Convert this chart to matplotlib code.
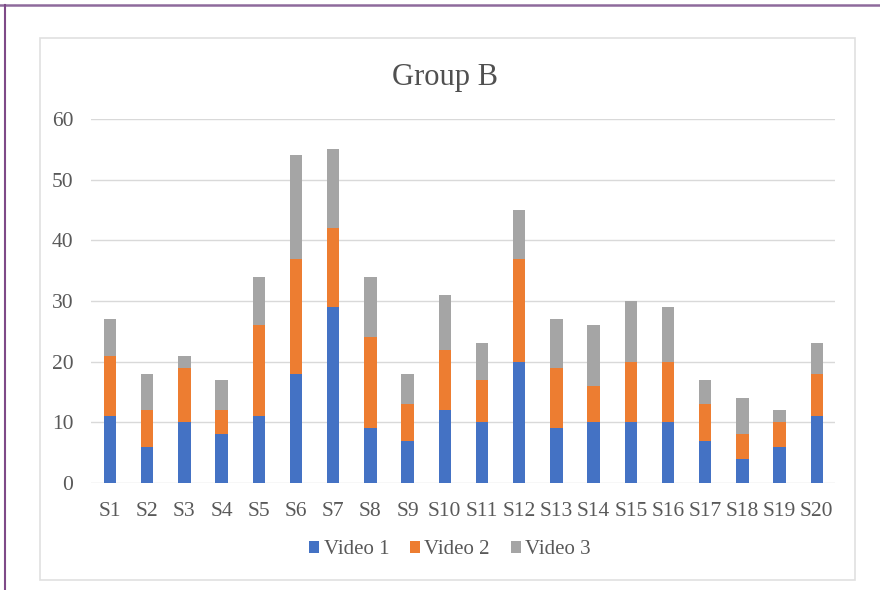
import matplotlib
matplotlib.use("Agg")
import matplotlib.pyplot as plt
from matplotlib.patches import Rectangle
from matplotlib.lines import Line2D
import numpy as np

categories = [f"S{i}" for i in range(1, 21)]
video1 = [11, 6, 10, 8, 11, 18, 29, 9, 7, 12, 10, 20, 9, 10, 10, 10, 7, 4, 6, 11]
video2 = [10, 6, 9, 4, 15, 19, 13, 15, 6, 10, 7, 17, 10, 6, 10, 10, 6, 4, 4, 7]
video3 = [6, 6, 2, 5, 8, 17, 13, 10, 5, 9, 6, 8, 8, 10, 10, 9, 4, 6, 2, 5]
series_names = ["Video 1", "Video 2", "Video 3"]
colors = ["#4472C4", "#ED7D31", "#A5A5A5"]
yticks = [0, 10, 20, 30, 40, 50, 60]

plt.rcParams['font.family'] = ['Liberation Serif', 'DejaVu Serif']

W, H = 880, 590
fig = plt.figure(figsize=(W / 100, H / 100), dpi=100)

# outer purple frame lines
fig.add_artist(Line2D([0, 1], [1 - 4.5 / H, 1 - 4.5 / H], transform=fig.transFigure,
                      color="#8E6A9C", lw=1.8))
fig.add_artist(Line2D([4.5 / W, 4.5 / W], [0, 1 - 4.5 / H], transform=fig.transFigure,
                      color="#7E4A88", lw=1.5))
# chart area box
fig.add_artist(Rectangle((40 / W, 1 - 580 / H), (855 - 40) / W, (580 - 38) / H,
                         transform=fig.transFigure, fill=False, edgecolor="#E0E0E0", lw=1.2))

ax = fig.add_axes([91.4 / W, 1 - 483 / H, 744 / W, (483 - 119) / H])
x = np.arange(len(categories))
bottom = np.zeros(len(categories))
for vals, name, c in zip([video1, video2, video3], series_names, colors):
    ax.bar(x, vals, width=0.33, bottom=bottom, color=c, label=name, zorder=3)
    bottom += np.array(vals)

ax.set_xlim(-0.5, len(categories) - 0.5)
ax.set_ylim(0, 60)
ax.set_yticks(yticks)
ax.set_xticks(x)
ax.set_xticklabels(categories)
for s in ax.spines.values():
    s.set_visible(False)
ax.grid(axis="y", color="#D9D9D9", lw=1.0, zorder=0)
ax.tick_params(axis="both", length=0, labelsize=15.5, labelcolor="#595959")
ax.tick_params(axis="y", pad=13)
ax.tick_params(axis="x", pad=14)

fig.text(445 / W, 1 - 77 / H, "Group B", ha="center", va="center",
         fontsize=22, color="#505050")

ax.legend(loc="center", bbox_to_anchor=(450 / W, 1 - 550 / H), bbox_transform=fig.transFigure,
          ncol=3, frameon=False, fontsize=15, handlelength=0.5, handleheight=0.5,
          handletextpad=0.2, columnspacing=1.0, labelcolor="#595959")

fig.savefig("out.png", dpi=100)
